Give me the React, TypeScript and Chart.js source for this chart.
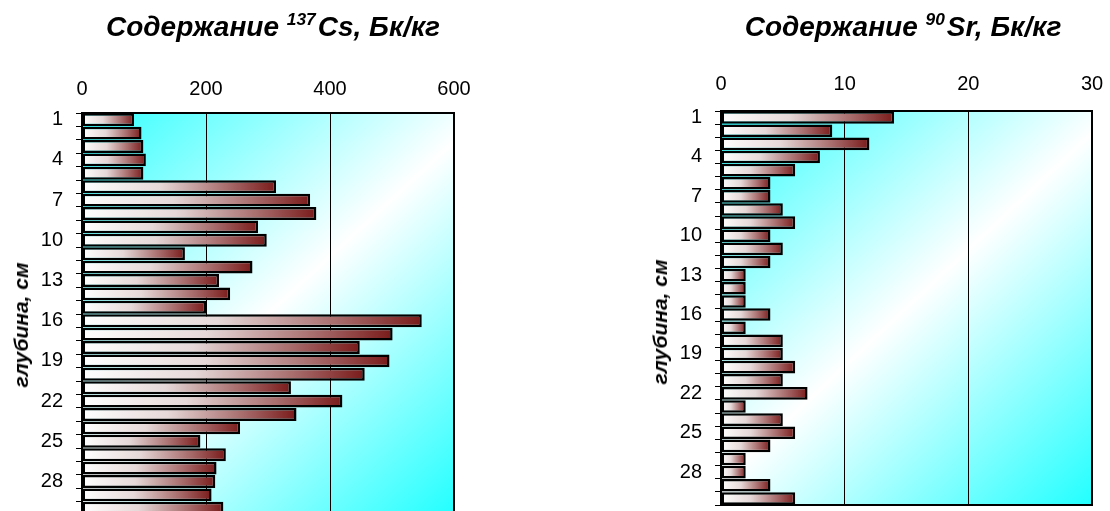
import React, { useEffect, useRef } from 'react';
import { Chart, registerables } from 'chart.js';

Chart.register(...registerables);

// depth categories, cm
const depths: string[] = [
  '1', '2', '3', '4', '5', '6', '7', '8', '9', '10',
  '11', '12', '13', '14', '15', '16', '17', '18', '19', '20',
  '21', '22', '23', '24', '25', '26', '27', '28', '29', '30',
];

// 137Cs, Bq/kg
const cs137: number[] = [
  84, 96, 99, 103, 99, 313, 368, 378, 284, 298,
  166, 275, 221, 239, 200, 548, 501, 448, 496, 456,
  337, 420, 346, 255, 191, 232, 217, 215, 209, 228,
];

// 90Sr, Bq/kg
const sr90: number[] = [
  14, 9, 12, 8, 6, 4, 4, 5, 6, 4,
  5, 4, 2, 2, 2, 4, 2, 5, 5, 6,
  5, 7, 2, 5, 6, 4, 2, 2, 4, 6,
];

// x-axis ranges
const csAxis = { min: 0, max: 600, step: 200 };
const srAxis = { min: 0, max: 30, step: 10 };

const FONT = '"Liberation Sans", Arial, Helvetica, sans-serif';

const areaPlugin = {
  id: 'areaDeco',
  beforeDraw(chart: any) {
    const { ctx, chartArea: a } = chart;
    if (!a) return;
    const g = ctx.createLinearGradient(a.left, a.top, a.right, a.bottom);
    g.addColorStop(0, '#33ffff');
    g.addColorStop(0.5, '#ffffff');
    g.addColorStop(1, '#22ffff');
    ctx.save();
    ctx.fillStyle = g;
    ctx.fillRect(a.left, a.top, a.right - a.left, a.bottom - a.top);
    ctx.restore();
  },
  afterDatasetsDraw(chart: any) {
    const { ctx, chartArea: a } = chart;
    if (!a) return;
    ctx.save();
    ctx.strokeStyle = '#000';
    ctx.lineWidth = 2;
    ctx.strokeRect(a.left, a.top, a.right - a.left, a.bottom - a.top);
    ctx.restore();
  },
};

function barFill(c: any) {
  const chart = c.chart;
  const xs = chart.scales && chart.scales.x;
  if (!chart.chartArea || !xs || typeof c.raw !== 'number') return '#a05050';
  const x0 = xs.getPixelForValue(0);
  let x1 = xs.getPixelForValue(c.raw);
  if (Math.abs(x1 - x0) < 1) x1 = x0 + 1;
  const g = chart.ctx.createLinearGradient(x0, 0, x1, 0);
  g.addColorStop(0, '#ffffff');
  g.addColorStop(0.4, '#e6d8d8');
  g.addColorStop(0.75, '#a86c6c');
  g.addColorStop(1, '#7a1a1a');
  return g;
}

interface PanelProps {
  values: number[];
  axis: { min: number; max: number; step: number };
  left: number;
  width: number;
  height: number;
  area: { left: number; top: number; right: number; bottom: number };
  xLabelPad: number;
}

function Panel(p: PanelProps) {
  const ref = useRef<HTMLCanvasElement | null>(null);
  useEffect(() => {
    if (!ref.current) return;
    const axisH = 50;
    const chart = new Chart(ref.current, {
      type: 'bar',
      data: {
        labels: depths,
        datasets: [
          {
            data: p.values,
            backgroundColor: barFill as any,
            borderColor: '#000',
            borderWidth: 2.5,
            borderSkipped: false,
            barPercentage: 0.96,
            categoryPercentage: 1,
          },
        ],
      },
      options: {
        indexAxis: 'y',
        responsive: false,
        maintainAspectRatio: false,
        animation: false,
        layout: {
          padding: {
            left: 0,
            top: p.area.top - axisH,
            right: p.width - p.area.right,
            bottom: p.height - p.area.bottom,
          },
        },
        plugins: {
          legend: { display: false },
          tooltip: { enabled: false },
          title: { display: false },
        },
        scales: {
          x: {
            type: 'linear',
            position: 'top',
            min: p.axis.min,
            max: p.axis.max,
            ticks: {
              stepSize: p.axis.step,
              padding: p.xLabelPad,
              color: '#000',
              font: { family: FONT, size: 20 },
            },
            grid: { color: '#000', lineWidth: 1, drawTicks: false },
            border: { display: false },
            afterFit: (s: any) => {
              s.height = axisH;
            },
          },
          y: {
            type: 'category',
            ticks: {
              autoSkip: false,
              padding: 13,
              color: '#000',
              font: { family: FONT, size: 20 },
              callback: (_v: any, i: number) => (i % 3 === 0 ? depths[i] : ''),
            },
            grid: {
              offset: true,
              drawOnChartArea: false,
              drawTicks: true,
              tickLength: 6,
              color: '#000',
              lineWidth: 1,
            },
            border: { display: false },
            afterFit: (s: any) => {
              s.width = p.area.left;
            },
          },
        },
      },
      plugins: [areaPlugin],
    } as any);
    return () => chart.destroy();
  }, []);
  return (
    <div style={{ position: 'absolute', left: p.left, top: 0, width: p.width, height: p.height }}>
      <canvas ref={ref} width={p.width} height={p.height} style={{ width: p.width, height: p.height, display: 'block' }} />
    </div>
  );
}

const titleStyle: React.CSSProperties = {
  position: 'absolute',
  top: 11,
  fontFamily: FONT,
  fontWeight: 'bold',
  fontStyle: 'italic',
  fontSize: 28,
  lineHeight: '32px',
  textAlign: 'center',
  whiteSpace: 'nowrap',
  color: '#000',
};

const supStyle: React.CSSProperties = {
  fontSize: '0.62em',
  verticalAlign: '0.62em',
  lineHeight: 0,
  marginRight: 2,
};

const yTitleStyle: React.CSSProperties = {
  position: 'absolute',
  fontFamily: FONT,
  fontWeight: 'bold',
  fontStyle: 'italic',
  fontSize: 21,
  lineHeight: '24px',
  whiteSpace: 'nowrap',
  color: '#000',
  transform: 'translate(-50%, -50%) rotate(-90deg)',
};

export default function App() {
  return (
    <div
      style={{
        position: 'fixed',
        left: 0,
        top: 0,
        width: 1110,
        height: 511,
        overflow: 'hidden',
        background: '#fff',
      }}
    >
      <Panel
        values={cs137}
        axis={csAxis}
        left={0}
        width={560}
        height={545}
        area={{ left: 82, top: 113, right: 454, bottom: 515 }}
        xLabelPad={12}
      />
      <Panel
        values={sr90}
        axis={srAxis}
        left={540}
        width={600}
        height={540}
        area={{ left: 181, top: 111, right: 552, bottom: 505 }}
        xLabelPad={15}
      />
      <div style={{ ...titleStyle, left: 0, width: 546 }}>
        Содержание <span style={supStyle}>137</span>Cs, Бк/кг
      </div>
      <div style={{ ...titleStyle, left: 703, width: 400 }}>
        Содержание <span style={supStyle}>90</span>Sr, Бк/кг
      </div>
      <div style={{ ...yTitleStyle, left: 21, top: 325 }}>глубина, см</div>
      <div style={{ ...yTitleStyle, left: 660, top: 322 }}>глубина, см</div>
    </div>
  );
}
